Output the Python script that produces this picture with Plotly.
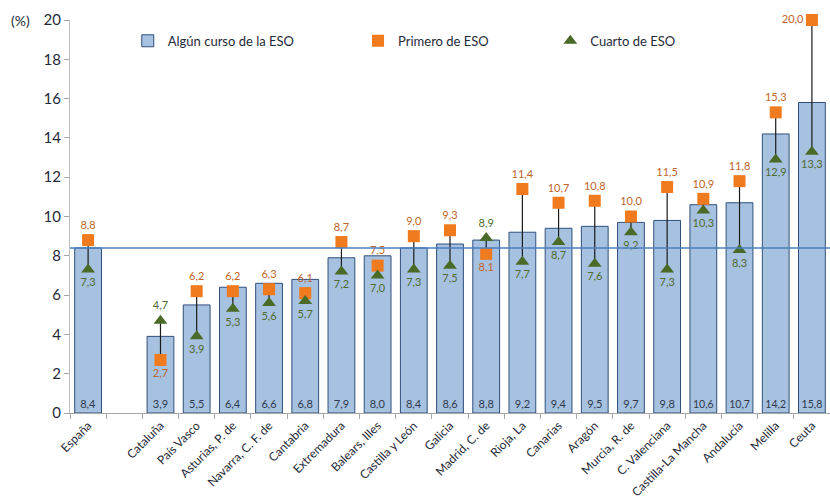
import plotly.graph_objects as go

# Comunidades autónomas (España first, then one empty slot)
categorias = ["España", "", "Cataluña", "País Vasco", "Asturias, P. de", "Navarra, C. F. de",
              "Cantabria", "Extremadura", "Balears, Illes", "Castilla y León", "Galicia",
              "Madrid, C. de", "Rioja, La", "Canarias", "Aragón", "Murcia, R. de",
              "C. Valenciana", "Castilla-La Mancha", "Andalucía", "Melilla", "Ceuta"]

# Porcentajes (None for the empty slot)
algun_curso = [8.4, None, 3.9, 5.5, 6.4, 6.6, 6.8, 7.9, 8.0, 8.4, 8.6, 8.8, 9.2, 9.4, 9.5,
               9.7, 9.8, 10.6, 10.7, 14.2, 15.8]
primero = [8.8, None, 2.7, 6.2, 6.2, 6.3, 6.1, 8.7, 7.5, 9.0, 9.3, 8.1, 11.4, 10.7, 10.8,
           10.0, 11.5, 10.9, 11.8, 15.3, 20.0]
cuarto = [7.3, None, 4.7, 3.9, 5.3, 5.6, 5.7, 7.2, 7.0, 7.3, 7.5, 8.9, 7.7, 8.7, 7.6,
          9.2, 7.3, 10.3, 8.3, 12.9, 13.3]

y_ticks = [0, 2, 4, 6, 8, 10, 12, 14, 16, 18, 20]
Y_MAX = 20

FONT = "Lato"
x = list(range(len(categorias)))
idx = [i for i in x if algun_curso[i] is not None]

fig = go.Figure()

# Bars: "Algún curso de la ESO"
fig.add_trace(go.Bar(
    x=[x[i] for i in idx], y=[algun_curso[i] for i in idx],
    name="Algún curso de la ESO", width=0.74, legend="legend",
    marker=dict(color="#a7c1e0", line=dict(color="#2f4f7a", width=1)),
    text=[algun_curso[i] for i in idx], texttemplate="%{y:.1f}",
    textposition="inside", insidetextanchor="start", textangle=0,
    textfont=dict(family=FONT, size=11, color="#2e3a4c"),
))

# Vertical connectors between first and fourth year
cx, cy = [], []
for i in idx:
    cx += [x[i], x[i], None]
    cy += [primero[i], cuarto[i], None]
fig.add_trace(go.Scatter(x=cx, y=cy, mode="lines", line=dict(color="#1a1a1a", width=1.2),
                         showlegend=False, hoverinfo="skip"))


def label_pos(v, other):
    # higher marker labelled above, lower one below; at the top edge, to the left
    if v >= Y_MAX:
        return "middle left"
    return "top center" if v >= other else "bottom center"


pos_p = [label_pos(primero[i], cuarto[i]) for i in idx]
pos_c = [label_pos(cuarto[i], primero[i] + 1e-9) for i in idx]

fig.add_trace(go.Scatter(
    x=[x[i] for i in idx], y=[primero[i] for i in idx], name="Primero de ESO",
    legend="legend2", cliponaxis=False,
    mode="markers+text", marker=dict(symbol="square", size=12, color="#f07a1e"),
    texttemplate="%{y:.1f}", textposition=pos_p,
    textfont=dict(family=FONT, size=11, color="#c0652a"),
))
fig.add_trace(go.Scatter(
    x=[x[i] for i in idx], y=[cuarto[i] for i in idx], name="Cuarto de ESO",
    legend="legend3", cliponaxis=False,
    mode="markers+text", marker=dict(symbol="triangle-up", size=12, color="#4a6a28"),
    texttemplate="%{y:.1f}", textposition=pos_c,
    textfont=dict(family=FONT, size=11, color="#4f6b2e"),
))

# Reference line at the national value
fig.add_shape(type="line", xref="paper", x0=0, x1=1, yref="y",
              y0=algun_curso[0], y1=algun_curso[0],
              line=dict(color="#4a7fc0", width=1.5), layer="above")

fig.add_annotation(text="(%)", xref="paper", x=-0.05, xanchor="right", yref="y", y=20,
                   showarrow=False, font=dict(family=FONT, size=14, color="#1f2a38"))

legend_style = dict(orientation="h", y=0.947, xanchor="left", yanchor="middle",
                    font=dict(family=FONT, size=13, color="#1f2a38"),
                    bgcolor="rgba(0,0,0,0)", itemclick=False, itemwidth=30)

fig.update_layout(
    width=830, height=501,
    margin=dict(l=70, r=0, t=20, b=88),
    paper_bgcolor="white", plot_bgcolor="white",
    separators=",.",
    font=dict(family=FONT, color="#1f2a38"),
    showlegend=True,
    legend=dict(x=0.076, **legend_style),
    legend2=dict(x=0.379, **legend_style),
    legend3=dict(x=0.632, **legend_style),
)

fig.update_xaxes(
    range=[-0.5, 20.5], tickmode="array", tickvals=x, ticktext=categorias,
    tickangle=-45, tickfont=dict(family=FONT, size=12, color="#1f2a38"),
    showline=True, linecolor="#a6a6a6", ticks="", showgrid=False, zeroline=False,
    minor=dict(tickmode="array", tickvals=[i - 0.5 for i in range(len(categorias) + 1)],
               ticks="outside", ticklen=5, tickcolor="#a6a6a6"),
)
fig.update_yaxes(
    range=[0, Y_MAX], tickmode="array", tickvals=y_ticks, ticks="outside", ticklen=5,
    tickcolor="#a6a6a6", showline=True, linecolor="#bfbfbf", showgrid=False,
    zeroline=False, tickfont=dict(family=FONT, size=15, color="#1f2a38"),
)

fig.write_html("out.html")
